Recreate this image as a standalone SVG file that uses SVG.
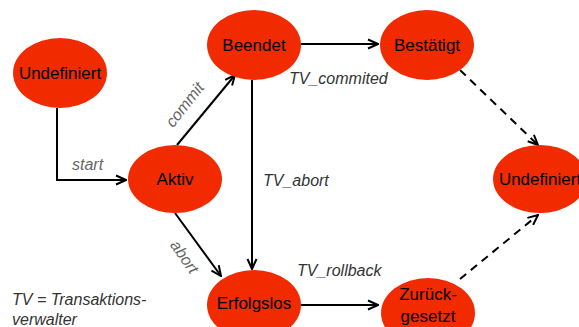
<svg xmlns="http://www.w3.org/2000/svg" width="579" height="327" viewBox="0 0 579 327">
<defs>
<marker id="arr" viewBox="0 0 12 12" refX="11" refY="6" markerWidth="12" markerHeight="12" markerUnits="userSpaceOnUse" orient="auto">
<path d="M1,1.5 L11,6 L1,10.5" fill="none" stroke="#000" stroke-width="2"/>
</marker>
</defs>
<style>
.node ellipse{fill:#f12a00;}
.node text{font-family:"Liberation Sans",Arial,sans-serif;font-size:17px;fill:#000;text-anchor:middle;}
.edge{fill:none;stroke:#000;stroke-width:2;marker-end:url(#arr);}
.dash{stroke-dasharray:8,6;}
.lbl{font-family:"Liberation Sans",Arial,sans-serif;font-size:16px;font-style:italic;fill:#333;}
.lbl2{fill:#666;}
</style>
<rect width="579" height="327" fill="#fff"/>
<g id="connectors">
<path class="edge" d="M57,108 V180 H126"/>
<path class="edge" d="M177,145 L235,75"/>
<path class="edge" d="M175,213 L221,276"/>
<path class="edge" d="M252,80 V269"/>
<path class="edge" d="M301,44 H378"/>
<path class="edge" d="M301,305 H378"/>
<path class="edge dash" d="M460,70 L538,145"/>
<path class="edge dash" d="M460,279 L538,215"/>
<text class="lbl lbl2" x="72" y="170">start</text>
<text class="lbl lbl2" transform="translate(189,108) rotate(-52)" text-anchor="middle">commit</text>
<text class="lbl lbl2" transform="translate(180,260) rotate(55)" text-anchor="middle">abort</text>
<text class="lbl" x="263" y="186">TV_abort</text>
<text class="lbl" x="289" y="84">TV_commited</text>
<text class="lbl" x="297" y="276">TV_rollback</text>
</g>
<g id="undefiniert1" class="node"><ellipse cx="60" cy="73" rx="47" ry="35"/><text x="60" y="79">Undefiniert</text></g>
<g id="aktiv" class="node"><ellipse cx="175" cy="179" rx="47" ry="34"/><text x="175" y="185">Aktiv</text></g>
<g id="beendet" class="node"><ellipse cx="254" cy="45" rx="47" ry="35"/><text x="254" y="51">Beendet</text></g>
<g id="bestaetigt" class="node"><ellipse cx="427" cy="45" rx="47" ry="35"/><text x="427" y="51">Bestätigt</text></g>
<g id="erfolgslos" class="node"><ellipse cx="254" cy="305" rx="47" ry="35"/><text x="254" y="309">Erfolgslos</text></g>
<g id="zurueckgesetzt" class="node"><ellipse cx="428" cy="313" rx="47" ry="35"/><text x="428" y="300">Zurück-</text><text x="428" y="322">gesetzt</text></g>
<g id="undefiniert2" class="node"><ellipse cx="540" cy="179" rx="47" ry="34"/><text x="540" y="185">Undefiniert</text></g>
<g id="legend">
<text class="lbl" x="12" y="305">TV = Transaktions-</text>
<text class="lbl" x="12" y="325">verwalter</text>
</g>
</svg>
